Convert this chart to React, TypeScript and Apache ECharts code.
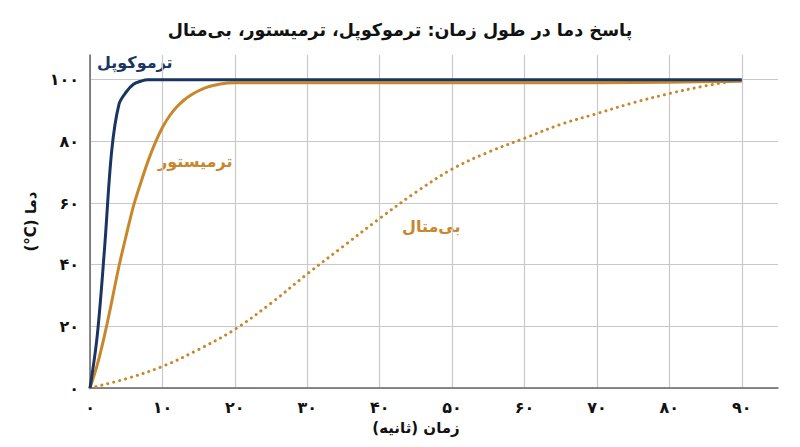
import React, { useEffect, useRef } from 'react'
import * as echarts from 'echarts'

// زمان (ثانیه) و دما (°C) هر حسگر
const tcTime = [0, 1, 2, 3, 4, 5, 6, 7, 8, 10, 20, 30, 40, 50, 60, 70, 80, 90]
const tcTemp = [0, 17, 45, 77, 92, 96, 98.5, 99.5, 100, 100, 100, 100, 100, 100, 100, 100, 100, 100]

const thTime = [0, 1, 2, 3, 4, 5, 6, 7, 8, 9, 10, 11, 12, 13, 14, 15, 16, 17, 18, 19, 20, 30, 40, 50, 60, 70, 80, 90]
const thTemp = [0, 7.5, 17, 28, 39.5, 49.5, 59, 66.5, 73.5, 79.5, 84.5, 88.3, 91.2, 93.4, 95.1, 96.4, 97.4, 98.1, 98.6, 98.9, 99, 99, 99, 99, 99, 99, 99.2, 99.5]

const bmTime = [0, 5, 10, 15, 20, 25, 30, 35, 40, 45, 50, 55, 60, 65, 70, 75, 80, 85, 90]
const bmTemp = [0, 3, 7, 12.5, 19, 27.5, 37, 46, 55, 63.5, 71, 76.5, 81, 85.5, 89, 92.5, 95.5, 98, 100]

const seriesNames = ['ترموکوپل', 'ترمیستور', 'بی‌متال']
const title = 'پاسخ دما در طول زمان: ترموکوپل، ترمیستور، بی‌متال'
const xName = 'زمان (ثانیه)'
const yName = 'دما (°C)'

const NAVY = '#1a3561'
const GOLD = '#c8872a'
const FONT = '"DejaVu Sans", "Noto Sans", sans-serif'

const faDigits = (v: number) => String(v).replace(/\d/g, d => '۰۱۲۳۴۵۶۷۸۹'[+d])
// RTL embedding; Latin runs kept in their own LTR embedding
const rtl = (s: string) => '\u202B' + s.replace(/([°A-Za-z]+)/g, '\u202A$1\u202C') + '\u202C'
const pairs = (t: number[], v: number[]) => t.map((x, i) => [x, v[i]])

export default function App() {
  const ref = useRef<HTMLDivElement | null>(null)

  useEffect(() => {
    if (!ref.current) return
    const chart = echarts.init(ref.current, null, { renderer: 'svg' })
    const lineBase = { type: 'line', smooth: 0.35, showSymbol: false }
    chart.setOption({
      animation: false,
      textStyle: { fontFamily: FONT },
      grid: { left: 90, right: 22, top: 55, bottom: 59 },
      title: {
        text: rtl(title),
        left: 'center',
        top: 16,
        textStyle: { fontFamily: FONT, fontSize: 17.5, fontWeight: 'bold', color: '#111' },
      },
      xAxis: {
        type: 'value',
        min: 0,
        max: 95,
        interval: 10,
        axisLine: { lineStyle: { color: '#666', width: 1.5 } },
        axisTick: { show: false },
        axisLabel: {
          showMaxLabel: false,
          margin: 11,
          color: '#111',
          fontWeight: 'bold',
          fontSize: 16,
          formatter: (v: number) => faDigits(v),
        },
        splitLine: { show: true, showMaxLine: false, lineStyle: { color: '#c9c9c9', width: 1.2 } },
      },
      yAxis: {
        type: 'value',
        min: 0,
        max: 108,
        interval: 20,
        name: rtl(yName),
        nameLocation: 'middle',
        nameGap: 48,
        nameRotate: 90,
        nameTextStyle: { fontFamily: FONT, fontSize: 15, fontWeight: 'bold', color: '#111' },
        axisLine: { show: true, lineStyle: { color: '#666', width: 1.5 } },
        axisTick: { show: false },
        axisLabel: {
          showMaxLabel: false,
          margin: 11,
          color: '#111',
          fontWeight: 'bold',
          fontSize: 16,
          formatter: (v: number) => faDigits(v),
        },
        splitLine: { show: true, showMaxLine: false, lineStyle: { color: '#c9c9c9', width: 1.2 } },
      },
      series: [
        {
          ...lineBase,
          name: seriesNames[1],
          data: pairs(thTime, thTemp),
          lineStyle: { color: GOLD, width: 3 },
          z: 2,
        },
        {
          ...lineBase,
          name: seriesNames[2],
          data: pairs(bmTime, bmTemp),
          lineStyle: { color: GOLD, width: 3, type: [0.1, 6], cap: 'round' },
          z: 2,
        },
        {
          ...lineBase,
          name: seriesNames[0],
          data: pairs(tcTime, tcTemp),
          lineStyle: { color: NAVY, width: 3 },
          z: 3,
        },
      ],
      graphic: [
        {
          type: 'text',
          x: 97,
          y: 62,
          style: { text: seriesNames[0], fill: NAVY, font: `bold 16px ${FONT}`, textAlign: 'left', textVerticalAlign: 'middle' },
        },
        {
          type: 'text',
          x: 158,
          y: 161,
          style: { text: seriesNames[1], fill: GOLD, font: `bold 16px ${FONT}`, textAlign: 'left', textVerticalAlign: 'middle' },
        },
        {
          type: 'text',
          x: 402,
          y: 226,
          style: { text: seriesNames[2], fill: GOLD, font: `bold 16px ${FONT}`, textAlign: 'left', textVerticalAlign: 'middle' },
        },
        {
          type: 'text',
          x: 416,
          y: 428,
          style: { text: rtl(xName), fill: '#111', font: `bold 15px ${FONT}`, textAlign: 'center', textVerticalAlign: 'middle' },
        },
      ],
    } as any)
    return () => chart.dispose()
  }, [])

  return (
    <div
      ref={ref}
      style={{ position: 'fixed', left: 0, top: 0, width: 800, height: 447, background: '#fff' }}
    />
  )
}
